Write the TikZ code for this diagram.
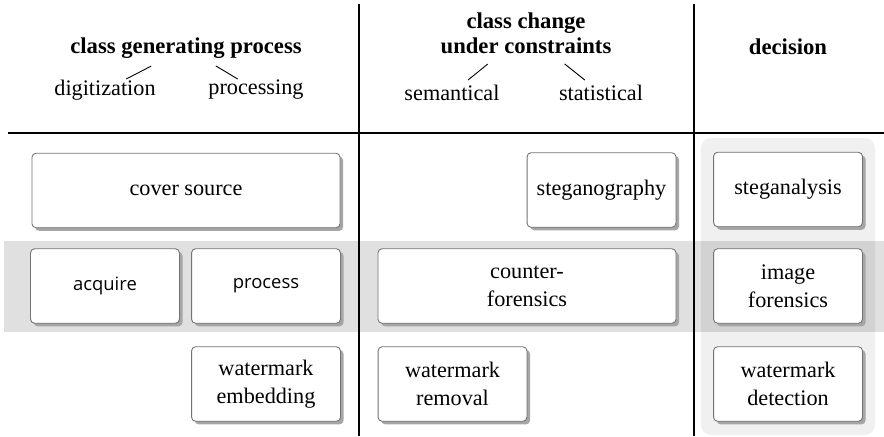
\documentclass[tikz,border=0pt]{standalone}
\usepackage{fontspec}
\setmainfont{Liberation Serif}
\newfontfamily\boxsans{Open Sans}
\usepackage{tikz}
\usetikzlibrary{positioning}
\usetikzlibrary{shadows}
\usetikzlibrary{calc}
\tikzset{
  task/.style={draw=black!55, line width=0.4pt, fill=white, rounded corners=1.8pt,
    align=center, minimum height=33.5pt, minimum width=67pt, inner sep=1pt,
    font=\fontsize{10}{12.6}\selectfont,
    drop shadow={shadow xshift=1.4pt, shadow yshift=-1.4pt, fill=black!35, opacity=1}},
  widetask/.style={task, minimum width=#1},
  sanstask/.style={task, font=\boxsans\fontsize{8.3}{10}\selectfont},
  head/.style={font=\bfseries\fontsize{10.2}{11.3}\selectfont, align=center, inner sep=0pt},
  sub/.style={font=\fontsize{10}{12}\selectfont, inner sep=0pt},
  rule/.style={line width=0.9pt}
}

\begin{document}
\begin{tikzpicture}[x=0.45pt,y=-0.45pt]
  \useasboundingbox (0,0) rectangle (884,436);
  % backgrounds
  \fill[black!6, rounded corners=4.5pt] (701,138) rectangle (875,435);
  \fill[black, opacity=0.12] (4,241) rectangle (884,332);
  % table rules
  \foreach \x in {359,694}
    \draw[rule] (\x,4) -- (\x,436);
  \draw[rule] (8,133) -- (884,133);

  % column heads
  \node[head] (gen) at (186,48) {class generating process};
  \node[sub] (digit) at (105,90) {digitization};
  \node[sub] (proc) at (256,90) {processing};
  \draw[shorten <=17.6pt, shorten >=10.8pt] (gen.center) -- (digit.center);
  \draw[shorten <=15.7pt, shorten >=9.6pt] (gen.center) -- (proc.center);

  \node[head] (chg) at (526,33) {class change\\under constraints};
  \node[sub] (sem) at (452,93) {semantical};
  \node[sub] (stat) at (601,93) {statistical};
  \draw[shorten <=22.2pt, shorten >=9.3pt] (chg.center) -- (sem.center);
  \draw[shorten <=22.2pt, shorten >=9.3pt] (chg.center) -- (stat.center);

  \node[head] (dec) at (788,47) {decision};

  % first row
  \node[widetask=138.6pt] (cover) at (186,190.5) {cover source};
  \node[task] (stego) at (601.5,190) {steganography};
  \node[task] (steganal) at (788,189.5) {steganalysis};
  % second row
  \node[sanstask] (acq) at (105,286) {acquire};
  \node[sanstask] (prc) at (266,286) {process};
  \node[widetask=134.1pt] (cfor) at (527,286) {counter-\\forensics};
  \node[task] (ifor) at (788,286) {image\\forensics};
  % third row
  \node[task] (wmemb) at (266,384) {watermark\\embedding};
  \node[task] (wmrem) at (452.5,384) {watermark\\removal};
  \node[task] (wmdet) at (788,384) {watermark\\detection};
\end{tikzpicture}
\end{document}
